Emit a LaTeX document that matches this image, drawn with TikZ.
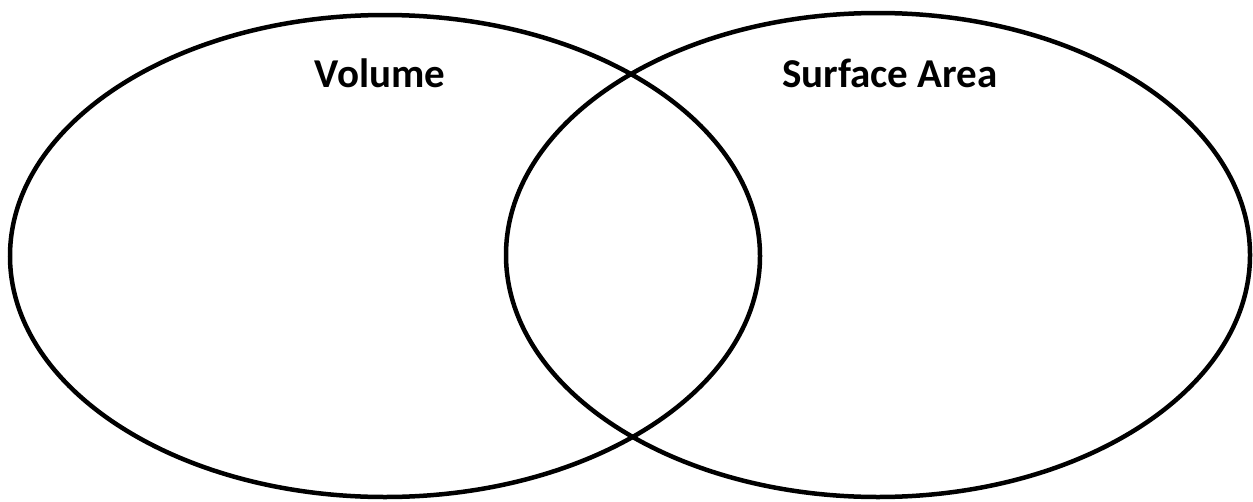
\documentclass[tikz,border=0pt]{standalone}
\usepackage{fontspec}
\setmainfont{Carlito}
\begin{document}
\begin{tikzpicture}[x=1pt,y=-1pt,
  setline/.style={draw=black,line width=4.5pt},
  settitle/.style={font=\bfseries\fontsize{41}{48}\selectfont,anchor=base}]
\useasboundingbox (0,0) rectangle (1253,501);
\draw[setline] (385,256) ellipse [x radius=375,y radius=241];
\draw[setline] (878,255) ellipse [x radius=372,y radius=242];
\node[settitle] (vol) at (380,87) {Volume};
\node[settitle] (sa) at (890,87) {Surface Area};
\end{tikzpicture}
\end{document}
